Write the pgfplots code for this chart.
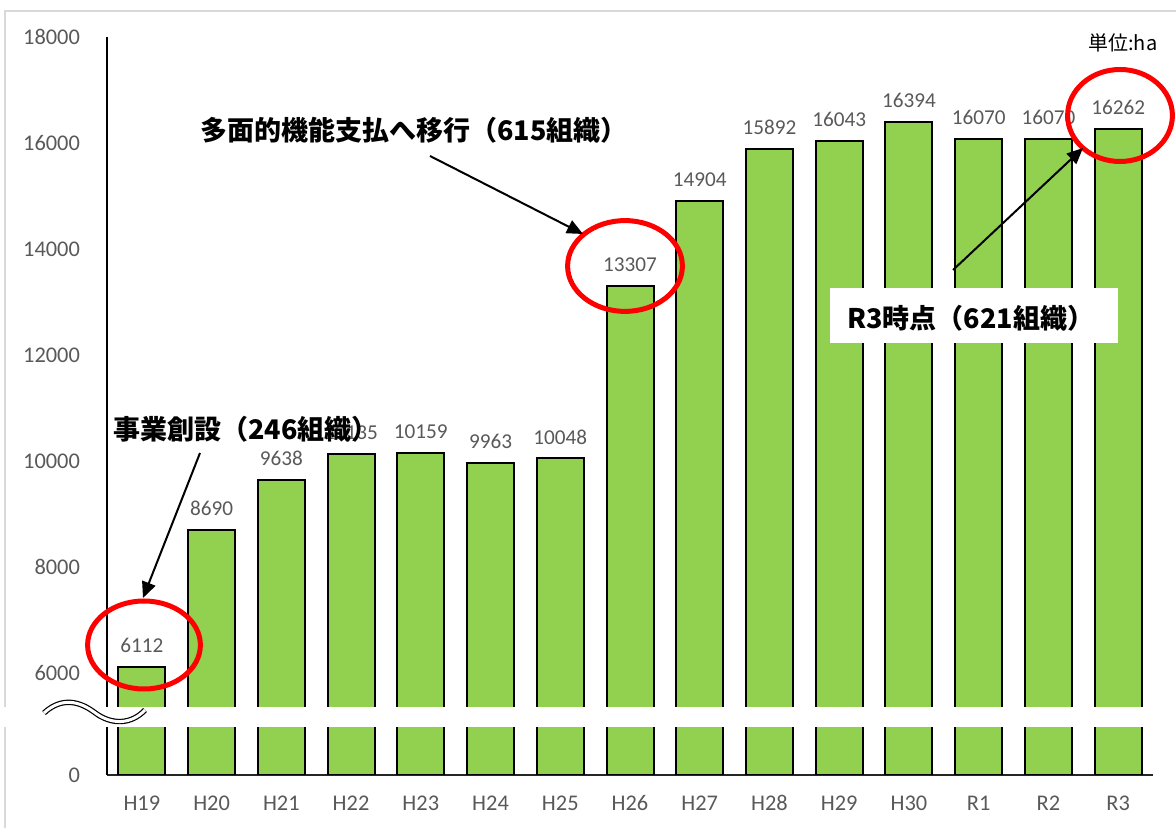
\documentclass[border=0pt]{standalone}
\usepackage{fontspec}
\setmainfont{Carlito}
\newfontfamily\jpfont{Noto Sans CJK JP}
\usepackage{pgfplots}
\pgfplotsset{compat=1.18}
\usetikzlibrary{arrows.meta}
\definecolor{bargreen}{HTML}{92D050}
\definecolor{lblgray}{HTML}{595959}
\definecolor{framegray}{HTML}{D9D9D9}
\begin{document}
\begin{tikzpicture}
% pixel frame: (px,py) -> ((px-107)/2 pt, (775-py)/2 pt)
\path[use as bounding box] (-53.5pt,-26.5pt) rectangle (534.5pt,387.5pt);
\begin{scope}[x=0.5pt,y=-0.5pt,shift={(-53.5pt,387.5pt)}]
  \draw[framegray, line width=1pt] (5,828) -- (5,11) -- (1176,11);
\end{scope}
\begin{axis}[
  at={(0,0)}, anchor=south west,
  scale only axis, width=523pt, height=369pt,
  xmin=-0.5, xmax=14.5, ymin=4075, ymax=18000,
  scaled y ticks=false,
  ytick={4075,6000,8000,10000,12000,14000,16000,18000},
  yticklabels={0,6000,8000,10000,12000,14000,16000,18000},
  xtick={0,...,14},
  xticklabels={H19,H20,H21,H22,H23,H24,H25,H26,H27,H28,H29,H30,R1,R2,R3},
  axis x line=bottom, axis y line=left,
  x axis line style={-, black!85, line width=0.8pt},
  y axis line style={-, black, line width=1pt},
  major tick length=0pt,
  /pgf/number format/assume math mode=true,
  /pgf/number format/1000 sep={},
  ticklabel style={font=\fontsize{11.2}{13}\selectfont, text=lblgray},
  yticklabel style={xshift=-10pt},
  xticklabel style={yshift=-6.8pt},
  ybar, bar width=23.5pt,
  nodes near coords,
  nodes near coords style={font=\fontsize{10.6}{12}\selectfont, text=lblgray, yshift=3.3pt},
]
\addplot[fill=bargreen, draw=black, line width=1pt] coordinates {
 (0,6112) (1,8690) (2,9638) (3,10135) (4,10159) (5,9963) (6,10048)
 (7,13307) (8,14904) (9,15892) (10,16043) (11,16394) (12,16070) (13,16070) (14,16262)};
\end{axis}
\begin{scope}[x=0.5pt,y=-0.5pt,shift={(-53.5pt,387.5pt)}]
  % axis break
  \fill[white] (0,707) rectangle (1176,727);
  \draw[black, line width=0.6pt, double=white, double distance=1.5pt]
    (44,713) .. controls (58,700) and (75,698) .. (94,712)
    .. controls (112,726) and (132,724) .. (145,710);
  % ellipses
  \draw[red, line width=2.5pt] (144,645) ellipse [x radius=28.2pt, y radius=22pt];
  \draw[red, line width=2.5pt] (625,266) ellipse [x radius=28.7pt, y radius=22.7pt];
  \draw[red, line width=2.5pt] (1120,115.5) ellipse [x radius=26.2pt, y radius=23pt];
  % arrows
  \draw[black, line width=1pt, -{Triangle[length=8pt,width=7pt]}] (200,453) -- (143,598);
  \draw[black, line width=1pt, -{Triangle[length=8pt,width=7pt]}] (430,156) -- (583,234);
  \draw[black, line width=1pt, -{Triangle[length=8pt,width=7pt]}] (953,270) -- (1083,148);
  % texts
  \node[anchor=west, inner sep=0pt, font=\jpfont\bfseries\fontsize{13.5}{15}\selectfont] at (113,429) {事業創設（246組織）};
  \node[anchor=west, inner sep=0pt, font=\jpfont\bfseries\fontsize{13.5}{15}\selectfont] at (200,130) {多面的機能支払へ移行（615組織）};
  \fill[white] (830,288) rectangle (1118,343);
  \node[anchor=west, inner sep=0pt, font=\jpfont\bfseries\fontsize{13.5}{15}\selectfont] at (847,318) {R3時点（621組織）};
  \node[anchor=west, inner sep=0pt, font=\jpfont\fontsize{10}{12}\selectfont] at (1088,43) {単位:ha};
\end{scope}
\end{tikzpicture}
\end{document}
